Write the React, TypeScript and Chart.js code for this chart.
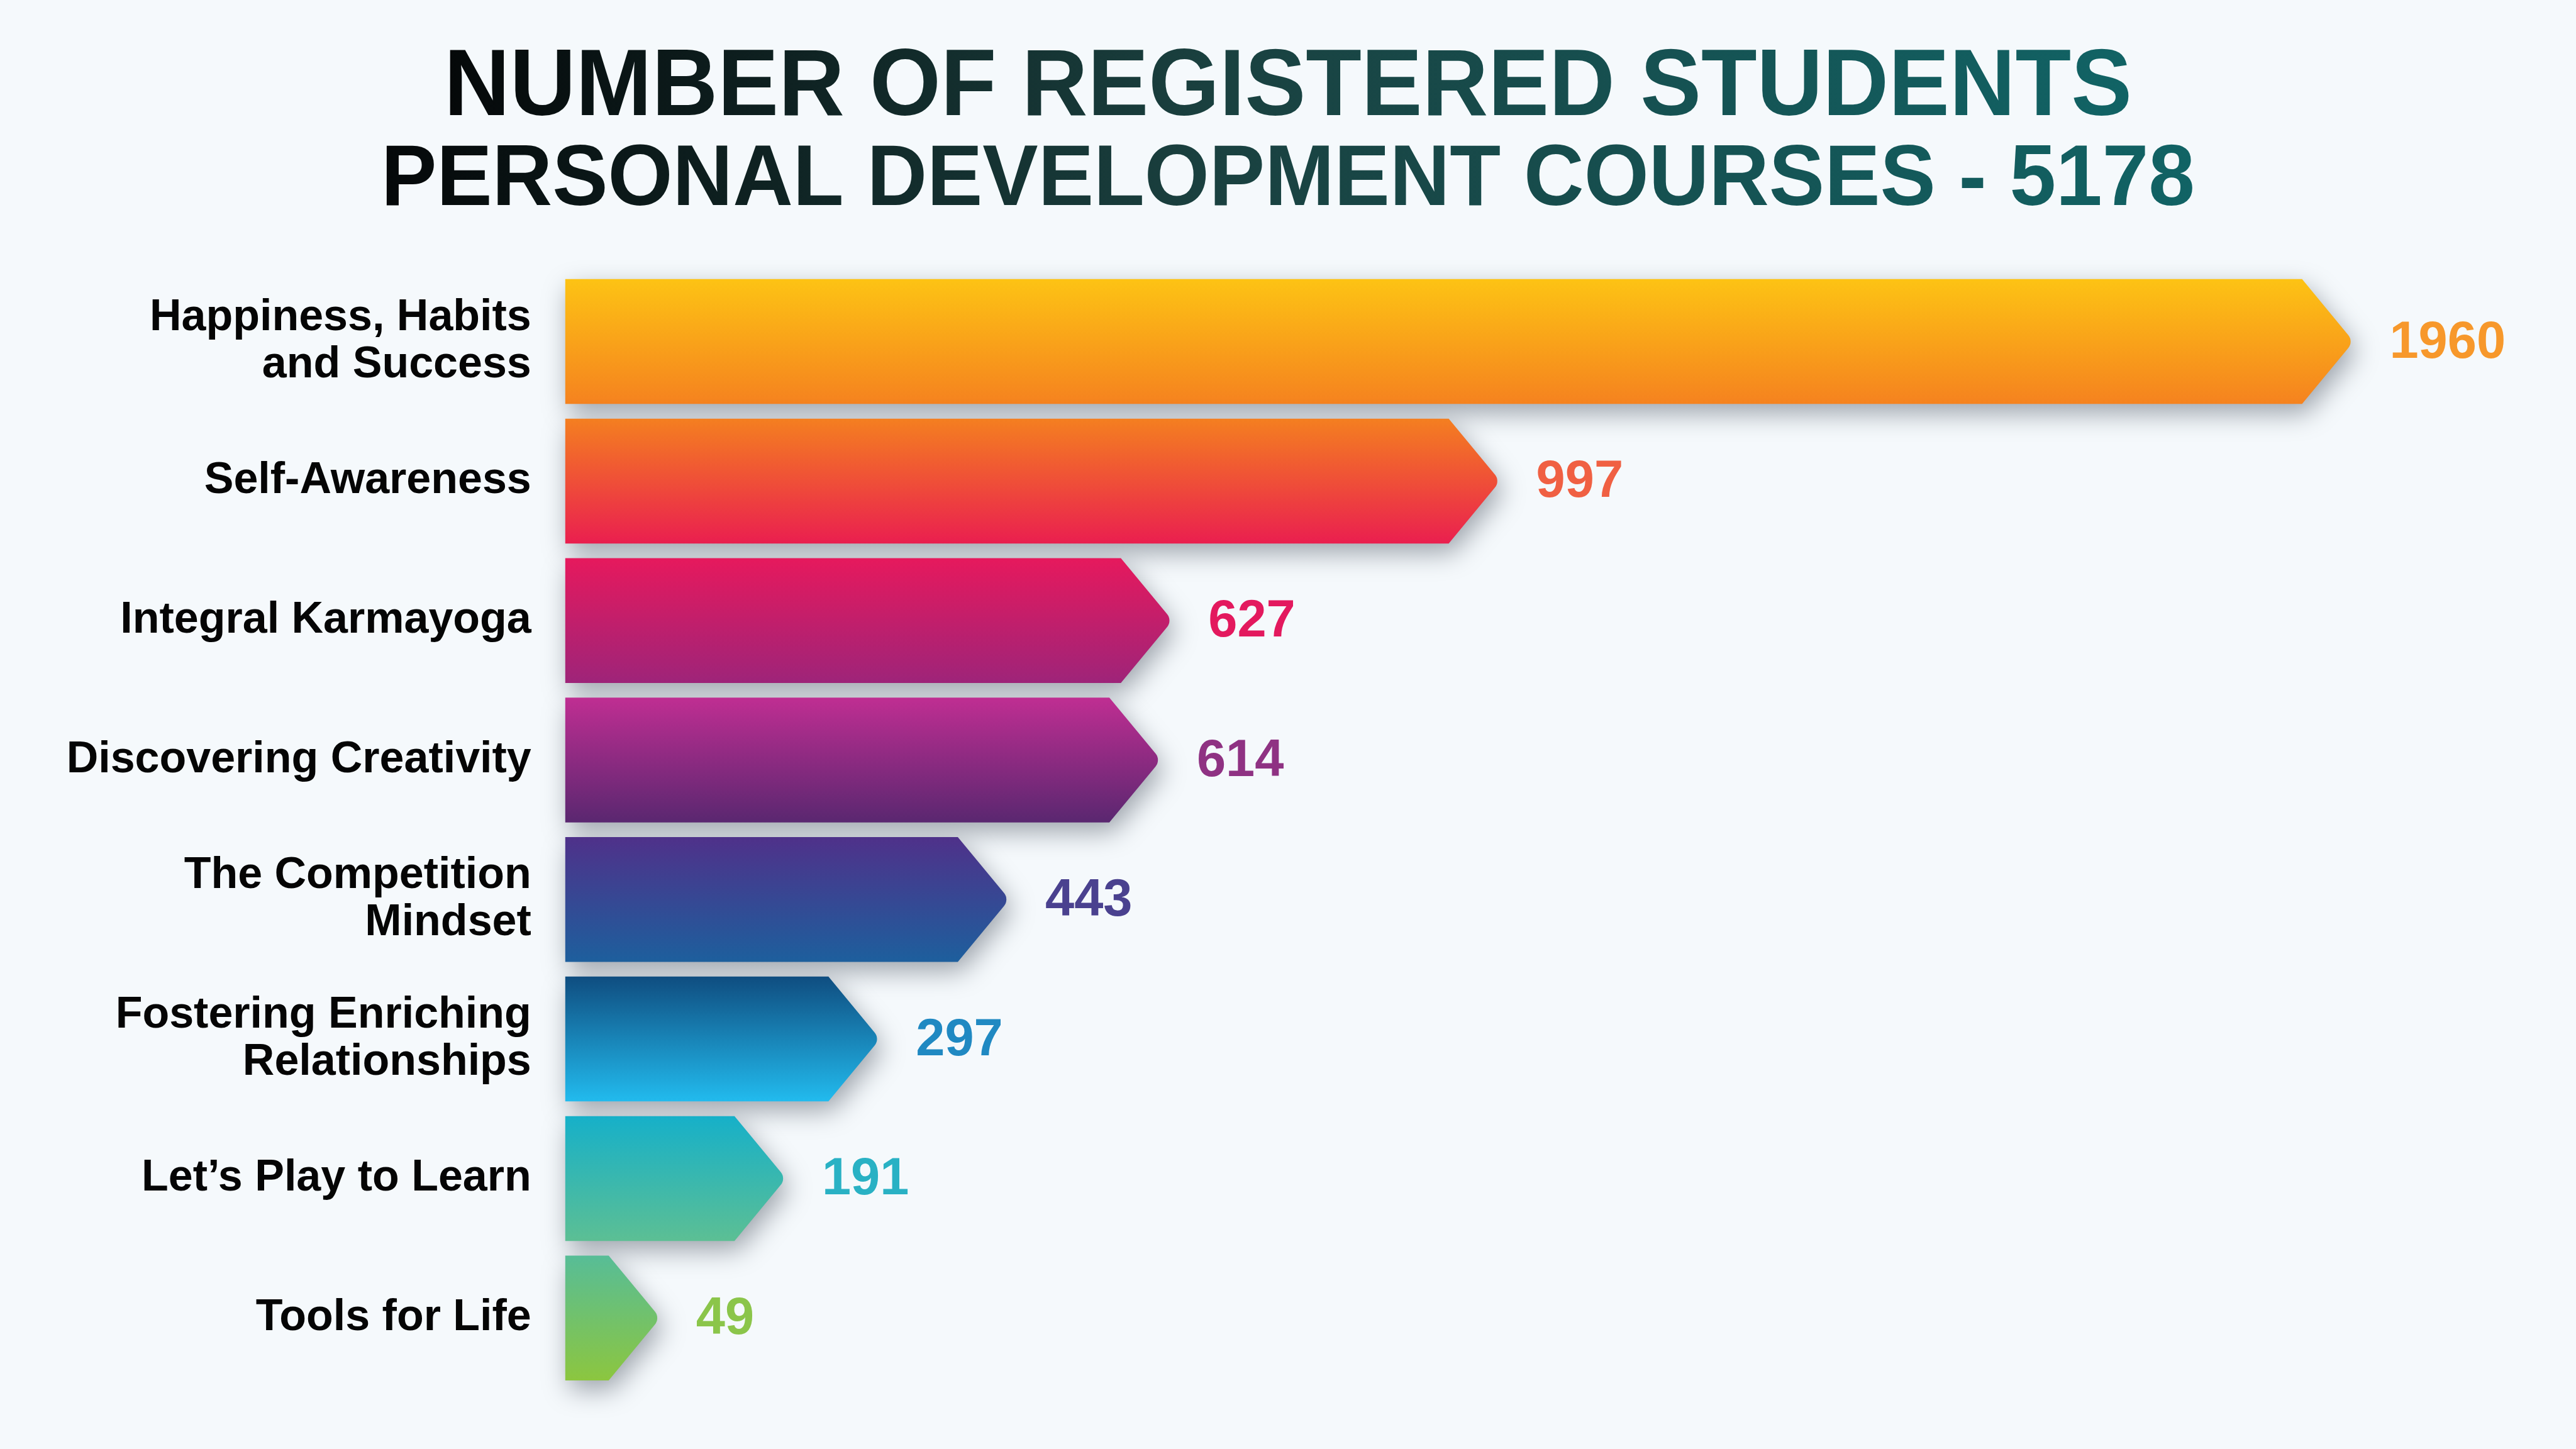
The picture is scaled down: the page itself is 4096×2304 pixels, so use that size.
import React, { useEffect, useRef } from "react";
import { Chart, registerables } from "chart.js";

Chart.register(...registerables);

// ---------- data ----------
const categories: (string | string[])[] = [
  ["Happiness, Habits", "and Success"],
  "Self-Awareness",
  "Integral Karmayoga",
  "Discovering Creativity",
  ["The Competition", "Mindset"],
  ["Fostering Enriching", "Relationships"],
  "Let’s Play to Learn",
  "Tools for Life",
];
const students = [1960, 997, 627, 614, 443, 297, 191, 49];
const titleLines = ["NUMBER OF REGISTERED STUDENTS", "PERSONAL DEVELOPMENT COURSES - 5178"];

// ---------- styles ----------
const gradTop = ["#fdc314", "#f47f20", "#e6195d", "#bf2e92", "#4f318a", "#0f4d80", "#16b0c9", "#57bd97"];
const gradBottom = ["#f5821f", "#ea1f4f", "#9e2479", "#5a2770", "#1d5f9d", "#22bbee", "#5cbf94", "#8cc63f"];
const valueColors = ["#f7982b", "#f06043", "#e3195e", "#8f3283", "#4a418f", "#2089c2", "#29b1c4", "#8bc54a"];

const W = 4096;
const H = 2304;
const FONT = '"Liberation Sans", Arial, Helvetica, sans-serif';
const BG = "#f5f9fc";

const arrowPlugin = {
  id: "arrowBars",
  beforeDraw(chart: any) {
    const ctx = chart.ctx as CanvasRenderingContext2D;
    ctx.save();
    ctx.fillStyle = BG;
    ctx.fillRect(0, 0, chart.width, chart.height);
    // title
    const specs = [
      { text: titleLines[0], size: 151, base: 182.5, width: 2684 },
      { text: titleLines[1], size: 137, base: 325.6, width: 2884 },
    ];
    specs.forEach((s) => {
      ctx.save();
      ctx.font = `bold ${s.size}px ${FONT}`;
      const mw = ctx.measureText(s.text).width;
      ctx.translate(W / 2, s.base);
      ctx.scale(s.width / mw, 1);
      const g = ctx.createLinearGradient(-mw / 2, 0, mw / 2, 0);
      g.addColorStop(0, "#050809");
      g.addColorStop(0.45, "#1a403f");
      g.addColorStop(1, "#116365");
      ctx.fillStyle = g;
      ctx.textAlign = "center";
      ctx.textBaseline = "alphabetic";
      ctx.fillText(s.text, 0, 0);
      ctx.restore();
    });
    ctx.restore();
  },
  beforeDatasetsDraw(chart: any) {
    const ctx = chart.ctx as CanvasRenderingContext2D;
    const meta = chart.getDatasetMeta(0);
    const tip = 82;
    const r = 16;
    meta.data.forEach((el: any, i: number) => {
      const { x, y, base, height } = el.getProps(["x", "y", "base", "height"], true);
      const top = y - height / 2;
      const bottom = y + height / 2;
      ctx.save();
      ctx.beginPath();
      ctx.moveTo(base, top);
      ctx.lineTo(x, top);
      ctx.arcTo(x + tip, y, x, bottom, r);
      ctx.lineTo(x, bottom);
      ctx.lineTo(base, bottom);
      ctx.closePath();
      const g = ctx.createLinearGradient(0, top, 0, bottom);
      g.addColorStop(0, gradTop[i]);
      g.addColorStop(1, gradBottom[i]);
      ctx.fillStyle = g;
      ctx.shadowColor = "rgba(35,45,60,0.42)";
      ctx.shadowBlur = 42;
      ctx.shadowOffsetX = 6;
      ctx.shadowOffsetY = 15;
      ctx.fill();
      ctx.restore();
    });
    meta.data.forEach((el: any, i: number) => {
      const { x, y } = el.getProps(["x", "y"], true);
      ctx.save();
      ctx.font = `bold 83px ${FONT}`;
      ctx.fillStyle = valueColors[i];
      ctx.textAlign = "left";
      ctx.textBaseline = "alphabetic";
      ctx.fillText(String(students[i]), x + 139, y + 25.5);
      ctx.restore();
    });
    return false;
  },
};

export default function App() {
  const ref = useRef<HTMLCanvasElement | null>(null);
  useEffect(() => {
    if (!ref.current) return;
    const chart = new Chart(ref.current, {
      type: "bar",
      data: {
        labels: categories as any,
        datasets: [
          {
            data: students,
            backgroundColor: gradTop,
            barPercentage: 0.895,
            categoryPercentage: 1,
          },
        ],
      },
      options: {
        indexAxis: "y",
        responsive: false,
        animation: false,
        devicePixelRatio: 1,
        layout: { padding: { top: 432.2, bottom: 97.4, right: 97.4, left: 0 } },
        plugins: { legend: { display: false }, tooltip: { enabled: false }, title: { display: false } },
        scales: {
          x: { display: false, min: 0, max: 2200 },
          y: {
            grid: { display: false, drawTicks: false },
            border: { display: false },
            ticks: {
              padding: 54,
              color: "#050505",
              font: { family: FONT, weight: "bold", size: 70, lineHeight: 1.07 },
              autoSkip: false,
            },
            afterFit: (s: any) => {
              s.width = 898.8;
              s.paddingTop = 0;
              s.paddingBottom = 0;
            },
          },
        },
      } as any,
      plugins: [arrowPlugin],
    });
    return () => chart.destroy();
  }, []);
  return (
    <div style={{ position: "fixed", left: 0, top: 0, width: W, height: H, background: BG }}>
      <canvas ref={ref} width={W} height={H} style={{ display: "block", width: W, height: H }} />
    </div>
  );
}
